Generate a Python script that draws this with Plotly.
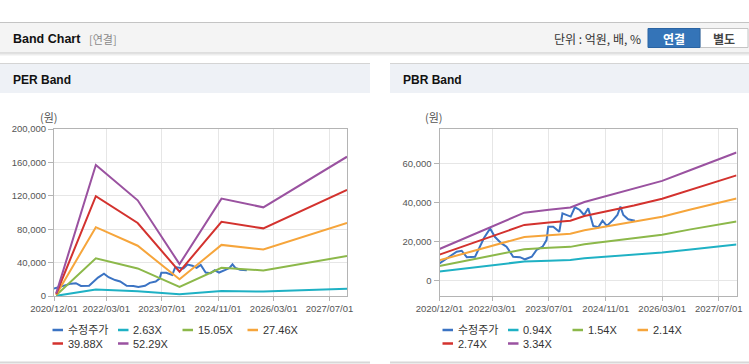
import plotly.graph_objects as go

W, H = 749, 364

# ---------------- data ----------------
x_tick_vals = ['2020-12-01', '2022-03-01', '2023-07-01', '2024-11-01', '2026-03-01', '2027-07-01']

# adjusted share price (same series in both charts)
price_dates = ['2020-12-01', '2021-01-15', '2021-03-01', '2021-04-28', '2021-06-10', '2021-07-24',
               '2021-10-03', '2021-11-15', '2021-12-20', '2022-02-10', '2022-03-22', '2022-05-18',
               '2022-07-01', '2022-08-27', '2022-10-24', '2022-12-07', '2023-02-03', '2023-03-16',
               '2023-05-07', '2023-06-10', '2023-06-25', '2023-08-07', '2023-09-28', '2023-10-25',
               '2023-12-01', '2024-01-04', '2024-02-09', '2024-03-22', '2024-04-28', '2024-06-03',
               '2024-07-16', '2024-08-28', '2024-10-04', '2024-11-10', '2025-01-04', '2025-02-09',
               '2025-03-07', '2025-04-01', '2025-05-13', '2025-07-10']
price_vals = [8800, 10500, 12500, 14800, 15300, 12000,
              12200, 17800, 22000, 26800, 22500, 19100,
              17400, 12200, 12000, 10900, 12200, 15700,
              17400, 20800, 27700, 27700, 25100, 34600,
              33700, 32900, 37700, 36300, 33700, 37200,
              28100, 27400, 30800, 28100, 31200, 33700,
              38000, 33700, 31500, 30800]

# PER band
per_dates = ['2020-12-20', '2021-12-01', '2022-12-01', '2023-12-01', '2024-12-01', '2025-12-01', '2027-12-01']
per_names = ['2.63X', '15.05X', '27.46X', '39.88X', '52.29X']
per_263 = [200, 7900, 5800, 2200, 5900, 5400, 8800]
per_1505 = [900, 45200, 33000, 11000, 33800, 30600, 48000]
per_2746 = [1600, 82400, 60200, 20000, 61200, 55700, 87600]
per_3988 = [2400, 119600, 87400, 29100, 88900, 81000, 127200]
per_5229 = [3100, 156900, 114600, 38200, 116600, 106200, 166800]

# PBR band
pbr_dates = ['2020-12-01', '2022-03-01', '2022-12-01', '2023-07-01', '2024-01-01', '2024-05-01',
             '2024-11-01', '2025-07-01', '2026-03-01', '2026-11-01', '2027-07-01', '2027-12-01']
pbr_names = ['0.94X', '1.54X', '2.14X', '2.74X', '3.34X']
pbr_094 = [4600, 7900, 9800, 10200, 10600, 11400, 12200, 13300, 14400, 16000, 17500, 18500]
pbr_154 = [7500, 12900, 16100, 16800, 17300, 18600, 19900, 21700, 23600, 26300, 28700, 30400]
pbr_214 = [10400, 18000, 22400, 23300, 24100, 25900, 27700, 30200, 32800, 36500, 39800, 42200]
pbr_274 = [13300, 23000, 28600, 29900, 30800, 33200, 35500, 38600, 42100, 46700, 51000, 54100]
pbr_334 = [16200, 28100, 34900, 36400, 37600, 40400, 43300, 47100, 51300, 56900, 62200, 65900]

price_name = '수정주가'

# ---------------- style ----------------
C_PRICE = '#3b73c3'
BAND_COLORS = ['#1fb1c4', '#8cb84a', '#f6a53b', '#d3322e', '#9a52a0']
FONT = 'Liberation Sans, Noto Sans CJK KR, sans-serif'
KFONT = 'Noto Sans CJK KR, Liberation Sans, sans-serif'
AXC = '#b4b4b4'
GRID = '#e6e6e6'


def px(x):
    return x / W


def py(y):
    return 1 - y / H


fig = go.Figure()

# PER traces
fig.add_trace(go.Scatter(x=price_dates, y=price_vals, mode='lines', name=price_name,
                         line=dict(color=C_PRICE, width=2), xaxis='x', yaxis='y'))
for nm, vals, col in zip(per_names, [per_263, per_1505, per_2746, per_3988, per_5229], BAND_COLORS):
    fig.add_trace(go.Scatter(x=per_dates, y=vals, mode='lines', name=nm,
                             line=dict(color=col, width=2), xaxis='x', yaxis='y'))

# PBR traces
fig.add_trace(go.Scatter(x=price_dates, y=price_vals, mode='lines', name=price_name,
                         line=dict(color=C_PRICE, width=2), xaxis='x2', yaxis='y2'))
for nm, vals, col in zip(pbr_names, [pbr_094, pbr_154, pbr_214, pbr_274, pbr_334], BAND_COLORS):
    fig.add_trace(go.Scatter(x=pbr_dates, y=vals, mode='lines', name=nm,
                             line=dict(color=col, width=2), xaxis='x2', yaxis='y2'))

common_x = dict(type='date', range=['2020-12-01', '2027-12-01'], tickvals=x_tick_vals,
                tickformat='%Y/%m/%d', showgrid=True, gridcolor=GRID, gridwidth=1,
                showline=True, linecolor=AXC, linewidth=1, mirror=True,
                ticks='outside', ticklen=4, tickcolor=AXC,
                tickfont=dict(family=FONT, size=9.5, color='#555555'), zeroline=False,
                fixedrange=True, automargin=False)
common_y = dict(showgrid=True, gridcolor=GRID, gridwidth=1,
                showline=True, linecolor=AXC, linewidth=1, mirror=True,
                ticks='outside', ticklen=5, tickcolor=AXC, tickformat=',',
                tickfont=dict(family=FONT, size=9.5, color='#555555'), zeroline=False,
                fixedrange=True, automargin=False)

fig.update_layout(
    template='none',
    width=W, height=H,
    margin=dict(l=0, r=0, t=0, b=0, pad=0, autoexpand=False),
    paper_bgcolor='white', plot_bgcolor='white',
    showlegend=False,
    xaxis=dict(common_x, domain=[px(54), px(347)], anchor='y'),
    yaxis=dict(common_y, domain=[py(296), py(129)], range=[0, 200000], dtick=40000, anchor='x'),
    xaxis2=dict(common_x, domain=[px(439.5), px(736.5)], anchor='y2'),
    yaxis2=dict(common_y, domain=[py(296), py(129)], range=[-8000, 78000],
                tickvals=[0, 20000, 40000, 60000], anchor='x2'),
)

shapes = []
annos = []


def rect(x0, y0, x1, y1, fill, line=None, layer='below'):
    shapes.append(dict(type='rect', xref='paper', yref='paper', x0=px(x0), x1=px(x1),
                       y0=py(y1), y1=py(y0), fillcolor=fill,
                       line=dict(width=0 if line is None else 1, color=line or fill), layer=layer))


def hline(x0, x1, y, color, width=1, layer='below'):
    shapes.append(dict(type='line', xref='paper', yref='paper', x0=px(x0), x1=px(x1),
                       y0=py(y), y1=py(y), line=dict(color=color, width=width), layer=layer))


def text(x, y, s, size=12, color='#333', bold=False, xanchor='left', family=FONT):
    if bold:
        s = '<b>' + s + '</b>'
    annos.append(dict(xref='paper', yref='paper', x=px(x), y=py(y), text=s, showarrow=False,
                      xanchor=xanchor, yanchor='middle', font=dict(family=family, size=size, color=color)))


# top header band
rect(0, 23, 749, 53, '#f4f4f4')
hline(0, 749, 22.5, '#c4c4c4')
hline(0, 749, 53, '#c8c8c8')
hline(0, 749, 54, '#dedede')
hline(0, 749, 55, '#ededed')
text(11, 39, 'Band Chart', size=12.5, color='#111', bold=True)
text(87, 39, '[연결]', size=11, color='#8a8a8a', family=KFONT)
text(643, 39, '단위 : 억원, 배, %', size=12, color='#333', xanchor='right', family=KFONT)
# toggle buttons
shapes.append(dict(type='rect', xref='paper', yref='paper', x0=px(700), x1=px(748), y0=py(47.5), y1=py(28.5),
                   fillcolor='white', line=dict(color='#c4c4c4', width=1), layer='below'))
shapes.append(dict(type='rect', xref='paper', yref='paper', x0=px(648), x1=px(700), y0=py(47.5), y1=py(28.5),
                   fillcolor='#3474b8', line=dict(color='#2a64a3', width=1), layer='below'))
text(674, 38.5, '연결', size=12, color='white', bold=True, xanchor='center', family=KFONT)
text(724, 38.5, '별도', size=12, color='#444', bold=True, xanchor='center', family=KFONT)

# panels
for x0, x1, title in [(0, 370, 'PER Band'), (390, 749, 'PBR Band')]:
    rect(x0, 64, x1, 93, '#eef1f6')
    hline(x0, x1, 63.5, '#d4d4d4')
    hline(x0, x1, 362.5, '#d8d8d8', width=2)
    text(x0 + 11, 80, title, size=12, color='#111', bold=True)

text(49, 117, '(원)', size=11, color='#555', xanchor='center', family=KFONT)
text(434, 117, '(원)', size=11, color='#555', xanchor='center', family=KFONT)

# legends
leg_cols = [52.5, 118, 182.5, 247.5]
leg_rows = [330, 343.5]
for base, names in [(0, [price_name] + per_names), (390, [price_name] + pbr_names)]:
    colors = [C_PRICE] + BAND_COLORS
    for i, (nm, col) in enumerate(zip(names, colors)):
        r, c = divmod(i, 4)
        x = base + leg_cols[c]
        y = leg_rows[r]
        shapes.append(dict(type='line', xref='paper', yref='paper', x0=px(x), x1=px(x + 10.5),
                           y0=py(y), y1=py(y), line=dict(color=col, width=2.5), layer='above'))
        text(x + 13, y, nm, size=11, color='#333')

fig.update_layout(shapes=shapes, annotations=annos)
fig.write_html('out.html', config={'displayModeBar': False},
               post_script="document.body.style.margin='0';document.body.style.padding='0';"
                           "document.body.style.overflow='hidden';")
